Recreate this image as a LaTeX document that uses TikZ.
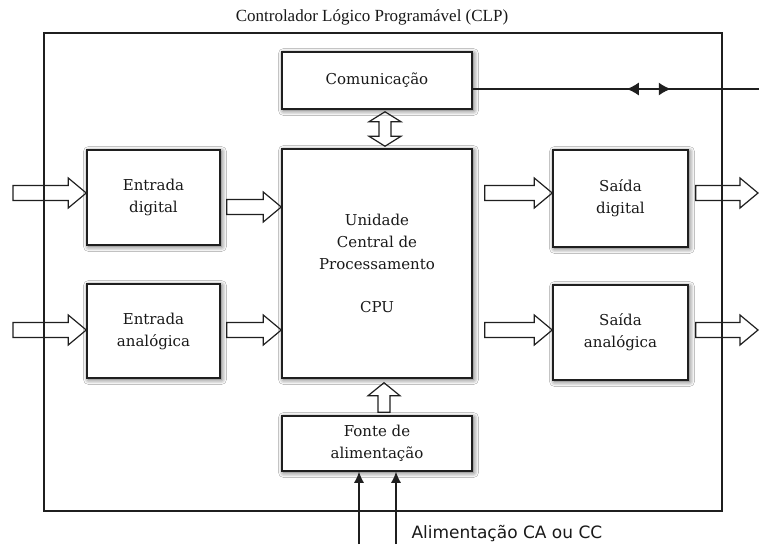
\documentclass[tikz,border=0pt]{standalone}
\usepackage{fontspec}
\setmainfont{DejaVu Serif}
\newfontfamily\titlefont{Liberation Serif}
\newfontfamily\alimfont{DejaVu Sans}
\usetikzlibrary{arrows.meta,calc,shadows.blur,decorations.markings}

\begin{document}
\begin{tikzpicture}[x=1pt,y=-1pt,
  box/.style={draw=black!88, line width=1.5pt, fill=white, align=center, inner sep=0pt,
    font=\fontsize{15}{22}\selectfont, text=black!90,
    blur shadow={shadow xshift=1.5pt,shadow yshift=-1.5pt,shadow blur radius=5pt,shadow opacity=70}},
  frame/.style={draw=black!88, line width=1.5pt, inner sep=0pt},
  hollow/.style={draw=black!88, line width=1.2pt, line join=miter},
  hright/.style={to path={let \p1=(\tikztostart),\p2=(\tikztotarget) in
     (\x1,\y1+7.5pt) -- (\x2-18pt,\y1+7.5pt) -- (\x2-18pt,\y1+15pt) -- (\x2,\y1)
     -- (\x2-18pt,\y1-15pt) -- (\x2-18pt,\y1-7.5pt) -- (\x1,\y1-7.5pt) -- cycle}},
  hup/.style={to path={let \p1=(\tikztostart),\p2=(\tikztotarget) in
     (\x1-6pt,\y1) -- (\x1-6pt,\y2-13pt) -- (\x1-16pt,\y2-13pt) -- (\x1,\y2)
     -- (\x1+16pt,\y2-13pt) -- (\x1+6pt,\y2-13pt) -- (\x1+6pt,\y1) -- cycle}},
  hupdown/.style={to path={let \p1=(\tikztostart),\p2=(\tikztotarget) in
     (\x1-6pt,\y1+10pt) -- (\x1-6pt,\y2-10pt) -- (\x1-16pt,\y2-10pt) -- (\x1,\y2)
     -- (\x1+16pt,\y2-10pt) -- (\x1+6pt,\y2-10pt) -- (\x1+6pt,\y1+10pt)
     -- (\x1+16pt,\y1+10pt) -- (\x1,\y1) -- (\x1-16pt,\y1+10pt) -- cycle}},
  wire/.style={draw=black!88, line width=1.2pt},
  tip/.style={-{Latex[length=11pt,width=10pt]}},
]
\useasboundingbox (0,0) rectangle (759,544);
\fill[white] (0,0) rectangle (759,544);

% title
\node[anchor=base, font=\titlefont\fontsize{17}{20}\selectfont, text=black!90] (title) at (372,21)
  {Controlador Lógico Programável (CLP)};

% outer frame
\node[frame, minimum width=678pt, minimum height=478pt] (clp) at (383,272) {};

% blocks
\node[box, minimum width=190pt, minimum height=57pt] (com) at (377,80.5) {Comunicação};
\node[box, minimum width=190pt, minimum height=229pt] (cpu) at (377,263.5)
  {Unidade\\Central de\\Processamento\\[21pt]CPU};
\node[box, minimum width=190pt, minimum height=55pt] (fonte) at (377,443.5) {Fonte de\\alimentação};
\node[box, minimum width=133pt, minimum height=95pt] (ed) at (153.5,197.5) {Entrada\\digital};
\node[box, minimum width=133pt, minimum height=94pt] (ea) at (153.5,331) {Entrada\\analógica};
\node[box, minimum width=135pt, minimum height=97pt] (sd) at (620.5,198.5) {Saída\\digital};
\node[box, minimum width=135pt, minimum height=95pt] (sa) at (620.5,332.5) {Saída\\analógica};

% free ends
\coordinate (ind) at (13,193);
\coordinate (ina) at (13,330);
\coordinate (outd) at (758,193);
\coordinate (outa) at (758,330);
\coordinate (cout) at (759,89);
\coordinate (pa) at (359,544);
\coordinate (pb) at (396,544);

% hollow arrows
\draw[hollow] (ind) to[hright] (ed.west);
\draw[hollow] ([shift={(6,9.5)}]ed.east) to[hright] (cpu.west);
\draw[hollow] (ina) to[hright] (ea.west);
\draw[hollow] ([shift={(6,-1)}]ea.east) to[hright] (cpu.west);
\draw[hollow] ([shift={(12,-70.5)}]cpu.east) to[hright] (sd.west);
\draw[hollow] ([shift={(12,66.5)}]cpu.east) to[hright] (sa.west);
\draw[hollow] ([shift={(7,-5.5)}]sd.east) to[hright] (outd);
\draw[hollow] ([shift={(7,-2.5)}]sa.east) to[hright] (outa);
\draw[hollow] ([shift={(8,-2)}]cpu.north) to[hupdown] ([yshift=-2pt]com.south);
\draw[hollow] ([shift={(7,-3)}]fonte.north) to[hup] ([yshift=-4pt]cpu.south);

% communication line
\draw[wire, postaction={decorate}, decoration={markings,
   mark=at position 154pt with {\arrowreversed{Latex[length=12pt,width=13pt]}},
   mark=at position 198pt with {\arrow{Latex[length=12pt,width=13pt]}}}]
  ([yshift=-8.5pt]com.east) -- (cout);

% power supply lines
\draw[wire, tip] (pa) -- (pa |- fonte.south);
\draw[wire, tip] (pb) -- (pb |- fonte.south);
\node[anchor=base west, font=\alimfont\fontsize{17}{20}\selectfont, text=black!90] (alim) at (408,538)
  {Alimentação CA ou CC};
\end{tikzpicture}
\end{document}
